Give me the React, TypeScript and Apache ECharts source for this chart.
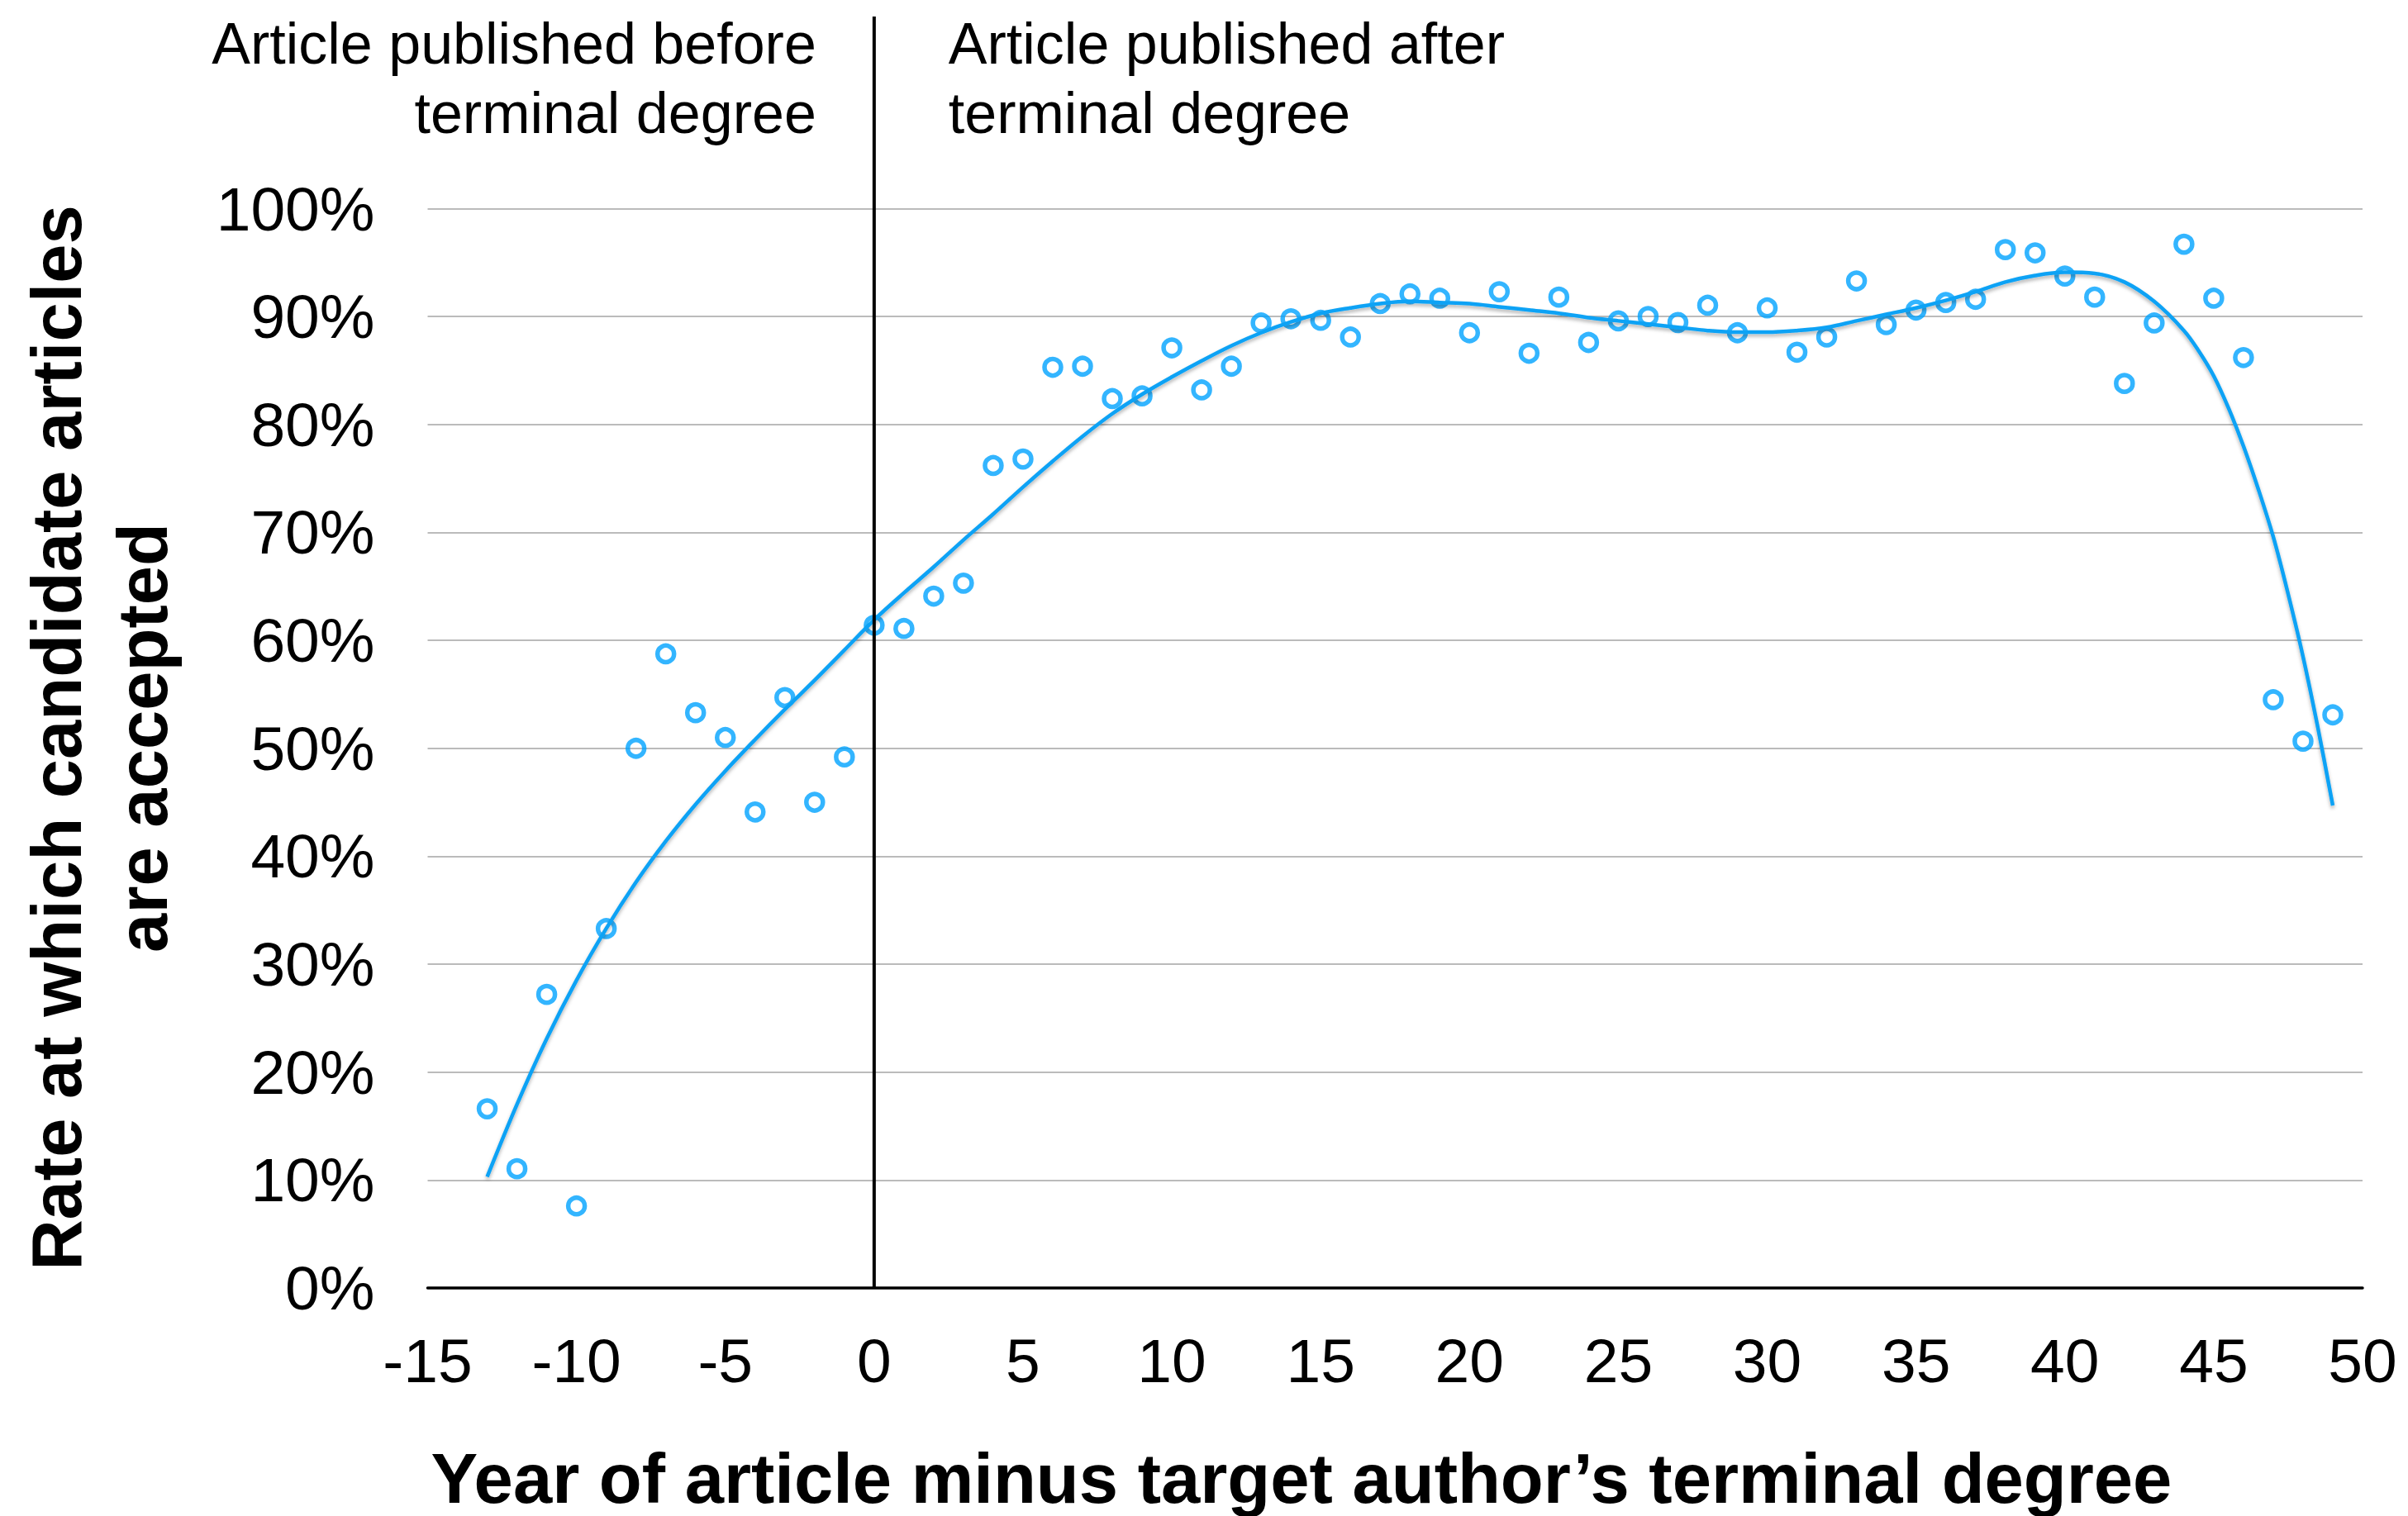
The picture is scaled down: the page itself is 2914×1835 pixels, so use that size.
import React, { useEffect, useRef } from "react";
import * as echarts from "echarts";

const FONT = '"Liberation Sans", Arial, Helvetica, sans-serif';

// Years: article year minus target author's terminal degree year
const yearOffsets = [
  -13, -12, -11, -10, -9, -8, -7, -6, -5, -4, -3, -2, -1, 0, 1, 2, 3, 4, 5, 6, 7, 8, 9, 10, 11, 12,
  13, 14, 15, 16, 17, 18, 19, 20, 21, 22, 23, 24, 25, 26, 27, 28, 29, 30, 31, 32, 33, 34, 35, 36,
  37, 38, 39, 40, 41, 42, 43, 44, 45, 46, 47, 48, 49,
];

// Observed acceptance rate (%)
const acceptanceRates = [
  16.6, 11.05, 27.2, 7.6, 33.3, 50.0, 58.75, 53.3, 51.0, 44.1, 54.7, 45.0, 49.2, 61.4, 61.1, 64.1,
  65.3, 76.2, 76.8, 85.3, 85.4, 82.4, 82.65, 87.1, 83.2, 85.4, 89.4, 89.8, 89.65, 88.1, 91.2, 92.1,
  91.7, 88.5, 92.3, 86.6, 91.8, 87.6, 89.6, 90.0, 89.45, 91.05, 88.5, 90.8, 86.7, 88.1, 93.3, 89.25,
  90.6, 91.3, 91.6, 96.2, 95.9, 93.75, 91.8, 83.8, 89.4, 96.7, 91.7, 86.2, 54.5, 50.66, 53.1,
];

// Trendline positions (years) and values (%)
const trendYears = [
  -13, -12, -11, -10, -9, -8, -7, -6, -5, -4, -3, -2, -1, 0, 1, 2, 3, 4, 5, 6, 7, 8, 9, 10, 11, 12,
  13, 14, 15, 16, 17, 18, 19, 20, 21, 22, 23, 24, 25, 26, 27, 28, 29, 30, 31, 32, 33, 34, 35, 36,
  37, 38, 39, 40, 41, 42, 43, 44, 44.5, 45, 45.5, 46, 46.5, 47, 47.5, 48, 48.5, 49,
];
const trendRates = [
  10.3, 17.0, 23.1, 28.5, 33.3, 37.6, 41.4, 44.8, 47.9, 50.8, 53.6, 56.3, 59.1, 61.9, 64.4, 66.8,
  69.3, 71.7, 74.2, 76.6, 78.9, 81.0, 82.8, 84.4, 85.9, 87.3, 88.5, 89.5, 90.3, 90.8, 91.2, 91.4,
  91.3, 91.2, 90.9, 90.6, 90.3, 89.9, 89.6, 89.3, 89.0, 88.7, 88.55, 88.55, 88.7, 89.0, 89.6, 90.2,
  90.8, 91.5, 92.3, 93.2, 93.8, 94.1, 94.0, 93.2, 91.4, 88.7, 86.8, 84.5, 81.5, 78.0, 74.0, 69.6,
  64.3, 58.5, 51.9, 44.7,
];

const beforeLines = ["Article published before", "terminal degree"];
const afterLines = ["Article published after", "terminal degree"];
const yTitleLines = ["Rate at which candidate articles", "are accepted"];
const xTitle = "Year of article minus target author\u2019s terminal degree";

export default function App() {
  const ref = useRef<HTMLDivElement>(null);

  useEffect(() => {
    if (!ref.current) return;
    const chart = echarts.init(ref.current, null, { renderer: "svg", width: 2914, height: 1835 });
    chart.setOption({
      animation: false,
      backgroundColor: "#ffffff",
      grid: { left: 517.5, right: 55, top: 252.5, bottom: 276, containLabel: false },
      xAxis: {
        type: "value",
        min: -15,
        max: 50,
        interval: 5,
        axisLine: { show: true, lineStyle: { color: "#000", width: 3.5 } },
        axisTick: { show: false },
        splitLine: { show: false },
        axisLabel: { fontSize: 75, fontFamily: FONT, color: "#000", margin: 50 },
      },
      yAxis: {
        type: "value",
        min: 0,
        max: 100,
        interval: 10,
        axisLine: { show: false },
        axisTick: { show: false },
        splitLine: { show: true, lineStyle: { color: "#bbbbbb", width: 2 } },
        axisLabel: { formatter: "{value}%", fontSize: 75, fontFamily: FONT, color: "#000", margin: 64 },
      },
      series: [
        {
          type: "scatter",
          silent: true,
          z: 3,
          symbol: "circle",
          symbolSize: 20,
          itemStyle: { color: "rgba(255,255,255,0)", borderColor: "#00A2FF", borderWidth: 5.5 },
          data: yearOffsets.map((y, i) => [y, acceptanceRates[i]]),
        },
        {
          type: "line",
          silent: true,
          z: 4,
          smooth: 0.35,
          showSymbol: false,
          symbol: "none",
          lineStyle: {
            color: "#0AA2F5",
            width: 4.5,
            shadowColor: "rgba(0,0,0,0.3)",
            shadowBlur: 4,
            shadowOffsetY: 3,
          },
          data: trendYears.map((y, i) => [y, trendRates[i]]),
        },
      ],
    });

    const x0 = chart.convertToPixel({ xAxisIndex: 0 }, 0) as number;
    const yBase = chart.convertToPixel({ yAxisIndex: 0 }, 0) as number;

    const textStyle = (text: string, font: string, align: string) => ({
      text,
      font,
      fill: "#000",
      align,
      textAlign: align,
      verticalAlign: "middle",
      textVerticalAlign: "middle",
    });

    chart.setOption({
      graphic: [
        {
          type: "line",
          z: 100,
          silent: true,
          shape: { x1: x0, y1: 20, x2: x0, y2: yBase },
          style: { stroke: "#000", lineWidth: 4 },
        },
        {
          type: "text",
          z: 100,
          x: x0 - 70,
          y: 52.5,
          style: textStyle(beforeLines[0], `70px ${FONT}`, "right"),
        },
        {
          type: "text",
          z: 100,
          x: x0 - 70,
          y: 136.5,
          style: textStyle(beforeLines[1], `70px ${FONT}`, "right"),
        },
        {
          type: "text",
          z: 100,
          x: x0 + 90,
          y: 52.5,
          style: textStyle(afterLines[0], `70px ${FONT}`, "left"),
        },
        {
          type: "text",
          z: 100,
          x: x0 + 90,
          y: 136.5,
          style: textStyle(afterLines[1], `70px ${FONT}`, "left"),
        },
        {
          type: "text",
          z: 100,
          x: 1575,
          y: 1789,
          style: textStyle(xTitle, `bold 85px ${FONT}`, "center"),
        },
        {
          type: "text",
          z: 100,
          x: 68,
          y: 893,
          rotation: Math.PI / 2,
          style: textStyle(yTitleLines[0], `bold 85px ${FONT}`, "center"),
        },
        {
          type: "text",
          z: 100,
          x: 172,
          y: 893,
          rotation: Math.PI / 2,
          style: textStyle(yTitleLines[1], `bold 85px ${FONT}`, "center"),
        },
      ],
    });

    return () => chart.dispose();
  }, []);

  return (
    <div
      ref={ref}
      style={{ position: "fixed", left: 0, top: 0, width: 2914, height: 1835, background: "#fff" }}
    />
  );
}
